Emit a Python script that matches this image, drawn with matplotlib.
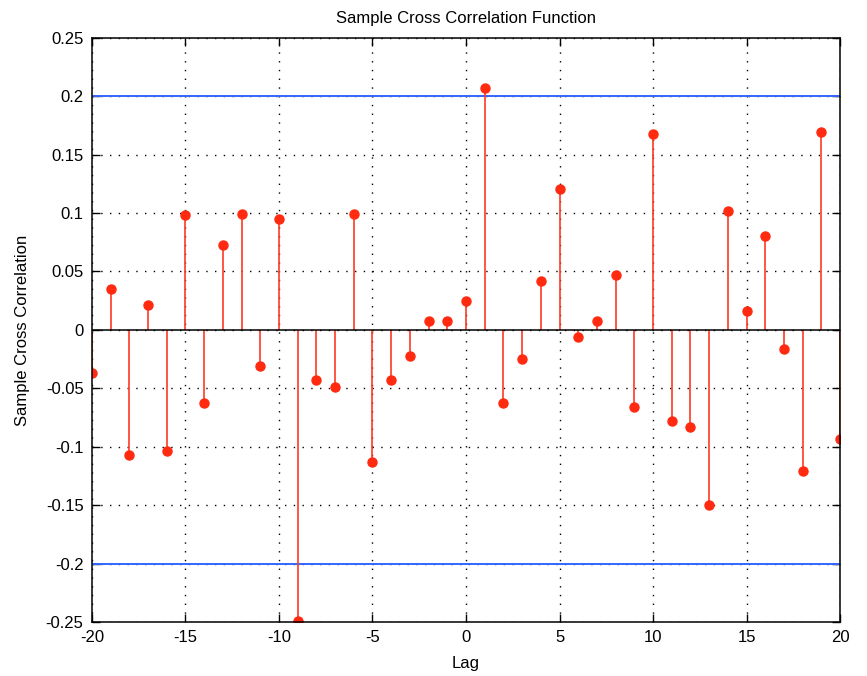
import matplotlib
matplotlib.use("Agg")
import matplotlib.pyplot as plt
import numpy as np

lags = list(range(-20, 21))
xcf = [
    -0.037, 0.035, -0.107, 0.021, -0.104, 0.098, -0.063, 0.073, 0.099, -0.031,
    0.095, -0.249, -0.043, -0.049, 0.099, -0.113, -0.043, -0.022, 0.008, 0.008,
    0.025, 0.207, -0.063, -0.025, 0.042, 0.121, -0.006, 0.008, 0.047, -0.066,
    0.168, -0.078, -0.083, -0.150, 0.102, 0.016, 0.080, -0.016, -0.121, 0.169,
    -0.093,
]
bounds = [0.2, -0.2]
xticks = [-20, -15, -10, -5, 0, 5, 10, 15, 20]
yticks = [-0.25, -0.2, -0.15, -0.1, -0.05, 0, 0.05, 0.1, 0.15, 0.2, 0.25]
ytick_labels = ["-0.25", "-0.2", "-0.15", "-0.1", "-0.05", "0",
                "0.05", "0.1", "0.15", "0.2", "0.25"]

plt.rcParams["font.family"] = ["Liberation Sans", "DejaVu Sans"]
plt.rcParams["font.size"] = 12
plt.rcParams["axes.unicode_minus"] = False

fig = plt.figure(figsize=(8.67, 6.76), dpi=100)
ax = fig.add_axes([0.106, 0.080, 0.863, 0.864])

markerline, stemlines, baseline = ax.stem(lags, xcf)
plt.setp(stemlines, color="#ff3a22", linewidth=1.2)
plt.setp(markerline, color="#ff2a10", marker="o", markersize=6.5,
         markeredgecolor="#ff2a10")
plt.setp(baseline, color="black", linewidth=1.1)

for b in bounds:
    ax.axhline(b, color="#3366ff", linewidth=1.4, zorder=1)

ax.set_xlim(-20, 20)
ax.set_ylim(-0.25, 0.25)
ax.set_xticks(xticks)
ax.set_yticks(yticks)
ax.set_yticklabels(ytick_labels)

ax.grid(True, color="black", linestyle=(0, (1, 5.3)), linewidth=1.0)
ax.set_axisbelow(True)
ax.tick_params(direction="in", length=6, width=1.0, top=True, right=True,
               pad=6)
for s in ax.spines.values():
    s.set_linewidth(1.1)

ax.set_title("Sample Cross Correlation Function", fontsize=12, pad=11)
ax.set_xlabel("Lag", labelpad=8)
ax.set_ylabel("Sample Cross Correlation", labelpad=11)

fig.savefig("out.png", dpi=100)
